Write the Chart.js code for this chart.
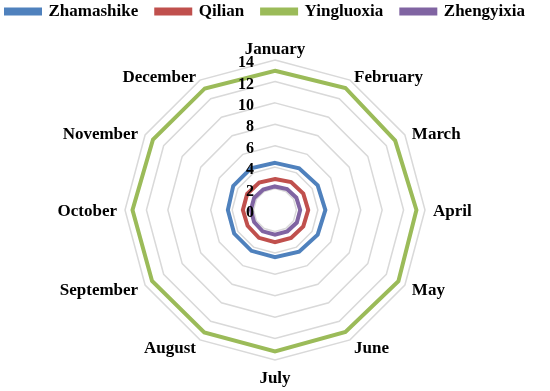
<!DOCTYPE html>
<html>
<head>
<meta charset="utf-8">
<script src="https://cdn.jsdelivr.net/npm/chart.js@4.4.1/dist/chart.umd.min.js"></script>
<style>
html,body{margin:0;padding:0;background:#fff;}
#wrap{width:550px;height:391px;position:relative;}
</style>
</head>
<body>
<div id="wrap"><canvas id="c" width="550" height="391"></canvas></div>
<script>
const months = ["January","February","March","April","May","June","July","August","September","October","November","December"];
const zhamashike = [4.4,4.5,4.6,4.7,4.6,4.5,4.4,4.4,4.4,4.4,4.5,4.5];
const qilian     = [2.9,3.0,3.05,3.1,3.05,3.0,3.0,3.0,2.95,3.0,3.0,2.95];
const yingluoxia = [13.0,13.15,12.95,13.2,13.3,13.15,13.2,13.2,13.25,13.3,13.15,13.1];
const zhengyixia = [2.2,2.25,2.3,2.35,2.35,2.3,2.3,2.3,2.25,2.25,2.25,2.2];
const tickValues = [0,2,4,6,8,10,12,14];

const FONT = "'Liberation Serif','Times New Roman',serif";

// tick labels drawn left of the vertical axis, over the series (as in the reference)
const tickPlugin = {
  id: 'tickPlugin',
  afterDatasetsDraw(chart) {
    const s = chart.scales.r;
    const ctx = chart.ctx;
    ctx.save();
    ctx.font = "bold 16px " + FONT;
    ctx.fillStyle = "#000";
    ctx.textAlign = "right";
    ctx.textBaseline = "middle";
    tickValues.forEach(v => {
      const d = s.getDistanceFromCenterForValue(v);
      ctx.fillText(String(v), s.xCenter - 21, s.yCenter - d + 3);
    });
    ctx.restore();
  }
};

// category labels placed around the scale, vertically centred like the reference
const labelPlugin = {
  id: 'labelPlugin',
  afterDatasetsDraw(chart) {
    const s = chart.scales.r;
    const ctx = chart.ctx;
    const n = chart.data.labels.length;
    ctx.save();
    ctx.font = "bold 17px " + FONT;
    ctx.fillStyle = "#000";
    ctx.textBaseline = "middle";
    chart.data.labels.forEach((lab, i) => {
      const deg = Math.round(i * 360 / n);
      let p, align;
      if (deg === 0) { p = s.getPointPosition(i, s.drawingArea + 12); align = 'center'; }
      else if (deg === 180) { p = s.getPointPosition(i, s.drawingArea + 17); align = 'center'; }
      else { p = s.getPointPosition(i, s.drawingArea + 8); align = deg < 180 ? 'left' : 'right'; }
      ctx.textAlign = align;
      const dy = (deg > 0 && deg < 90) || (deg > 270) ? 4 : 2;
      ctx.fillText(lab, p.x, p.y + dy);
    });
    ctx.restore();
  }
};

const mk = (label, data, color) => ({
  label, data,
  borderColor: color, backgroundColor: color,
  borderWidth: 4, pointRadius: 0, pointHoverRadius: 0, fill: false
});

new Chart(document.getElementById('c'), {
  type: 'radar',
  data: {
    labels: months,
    datasets: [
      mk("Zhamashike", zhamashike, "#4F81BD"),
      mk("Qilian", qilian, "#C0504D"),
      mk("Yingluoxia", yingluoxia, "#9BBB59"),
      mk("Zhengyixia", zhengyixia, "#8064A2")
    ]
  },
  options: {
    responsive: false,
    animation: false,
    devicePixelRatio: 1,
    layout: { padding: { top: -15, left: -12, right: -9, bottom: 31 } },
    plugins: {
      legend: {
        position: 'top',
        align: 'start',
        labels: {
          boxWidth: 34, boxHeight: 4, padding: 18,
          color: "#000",
          font: { family: FONT, size: 17, weight: 'bold' }
        }
      },
      subtitle: {
        display: true,
        text: ' ',
        weight: 500,
        position: 'top',
        font: { size: 1, lineHeight: 1 },
        padding: { top: 0, bottom: 29 }
      },
      tooltip: { enabled: false }
    },
    scales: {
      r: {
        min: 0, max: 14,
        ticks: { stepSize: 2, display: false },
        angleLines: { display: false },
        grid: { color: "#D9D9D9", lineWidth: 1.5 },
        pointLabels: { display: false }
      }
    }
  },
  plugins: [tickPlugin, labelPlugin]
});
</script>
</body>
</html>
